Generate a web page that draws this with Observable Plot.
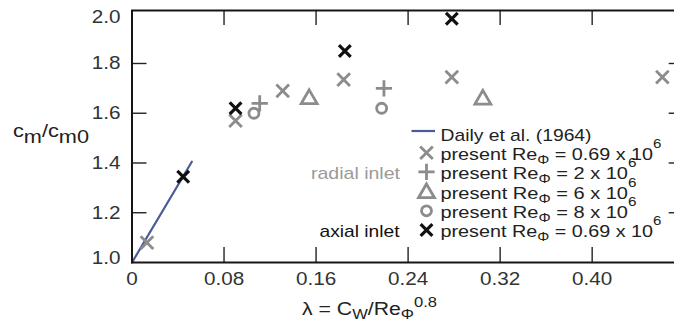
<!DOCTYPE html>
<html><head><meta charset="utf-8">
<script src="https://cdn.jsdelivr.net/npm/d3@7"></script>
<script src="https://cdn.jsdelivr.net/npm/@observablehq/plot@0.6"></script>
<style>
html,body{margin:0;padding:0;background:#fff;overflow:hidden;}
svg{overflow:hidden;}
</style></head><body><div id="chart"></div>
<script>
// ---- data ----
const xTicks = [0, 0.08, 0.16, 0.24, 0.32, 0.40];
const yTicks = [1.0, 1.2, 1.4, 1.6, 1.8, 2.0];

const dailyX = [0, 0.052];
const dailyY = [1.0, 1.405];

const radial069X = [0.013, 0.090, 0.131, 0.184, 0.278, 0.461];
const radial069Y = [1.08, 1.57, 1.69, 1.735, 1.745, 1.745];

const re2X = [0.111, 0.219];
const re2Y = [1.64, 1.70];

const re6X = [0.154, 0.305];
const re6Y = [1.657, 1.655];

const re8X = [0.106, 0.217];
const re8Y = [1.60, 1.62];

const axial069X = [0.0445, 0.090, 0.185, 0.278];
const axial069Y = [1.345, 1.62, 1.85, 1.98];

const legendLabels = [
  "Daily et al. (1964)",
  ["0.69", "6"], ["2", "6"], ["6", "6"], ["8", "6"], ["0.69", "6"]
];

// ---- layout ----
const W = 674, H = 324, mL = 131.5, mR = -9.7, mT = 10, mB = 62;
const innerW = W - mL - mR, innerH = H - mT - mB;
const TL = 15;
const pts = (xs, ys) => xs.map((x, i) => ({x, y: ys[i]}));
const gray = "#8c8c8c", black = "#111", blue = "#4a5b98";
const font = "'Liberation Sans', Arial, Helvetica, sans-serif";

const xFmt = d => d === 0 ? "0" : d.toFixed(2);
const yFmt = d => d.toFixed(1);

const S = {
  timesGray: {symbol: "times", r: 5.8, stroke: gray, sw: 2.8},
  plus: {symbol: "plus", r: 5.3, stroke: gray, sw: 2.8},
  tri: {symbol: "triangle", r: 5.9, stroke: gray, sw: 2.8},
  circ: {symbol: "circle", r: 5.0, stroke: gray, sw: 2.8},
  timesBlack: {symbol: "times", r: 5.4, stroke: black, sw: 3.2}
};
const dotOpts = s => ({x: "x", y: "y", symbol: s.symbol, r: s.r, stroke: s.stroke, strokeWidth: s.sw, fill: "none"});

const plot = Plot.plot({
  width: W, height: H,
  marginLeft: mL, marginRight: mR, marginTop: mT, marginBottom: mB,
  style: {fontFamily: font, fontSize: "18px", color: "#333", background: "#fff"},
  x: {domain: [0, 0.48], label: null},
  y: {domain: [1, 2.013], label: null},
  marks: [
    Plot.axisX(xTicks, {tickSize: 0, tickPadding: 10, tickFormat: xFmt, fontSize: 18, fill: "#333", label: null}),
    Plot.axisY(yTicks.slice(1, -1), {tickSize: 0, tickPadding: 11.5, tickFormat: yFmt, fontSize: 18, fill: "#333", label: null}),
    Plot.axisY(yTicks.slice(-1), {tickSize: 0, tickPadding: 11.5, tickFormat: yFmt, fontSize: 18, fill: "#333", label: null, dy: 3}),
    Plot.axisY(yTicks.slice(0, 1), {tickSize: 0, tickPadding: 11.5, tickFormat: yFmt, fontSize: 18, fill: "#333", label: null, dy: -4}),
    // inward ticks
    Plot.ruleX(xTicks.slice(1), {x: d => d, insetTop: innerH - TL, stroke: "#222", strokeWidth: 1.4}),
    Plot.ruleX(xTicks.slice(1), {x: d => d, insetBottom: innerH - TL, stroke: "#222", strokeWidth: 1.4}),
    Plot.ruleY(yTicks.slice(1, -1), {y: d => d, insetRight: innerW - TL, stroke: "#222", strokeWidth: 1.4}),
    Plot.ruleY(yTicks.slice(1, -1), {y: d => d, insetLeft: innerW - TL, stroke: "#222", strokeWidth: 1.4}),
    // Daily line
    Plot.line(pts(dailyX, dailyY), {x: "x", y: "y", stroke: blue, strokeWidth: 2.2}),
    // radial inlet
    Plot.dot(pts(radial069X, radial069Y), dotOpts(S.timesGray)),
    Plot.dot(pts(re2X, re2Y), dotOpts(S.plus)),
    Plot.dot(pts(re6X, re6Y), dotOpts(S.tri)),
    Plot.dot(pts(re8X, re8Y), dotOpts(S.circ)),
    // axial inlet
    Plot.dot(pts(axial069X, axial069Y), dotOpts(S.timesBlack)),
    Plot.frame({stroke: "#1c1414", strokeWidth: 2})
  ]
});
document.getElementById("chart").appendChild(plot);

const svg = d3.select(plot);
// widen tick labels slightly like the reference
svg.selectAll('g[aria-label="x-axis tick label"] text, g[aria-label="y-axis tick label"] text')
  .each(function() {
    const t = this.getAttribute("transform") || "";
    this.setAttribute("transform", t + " scale(1.15,1)");
  });

function addText(x, y, parts, {size = 18, fill = "#222", length = null} = {}) {
  const t = svg.append("text").attr("x", x).attr("y", y)
    .attr("text-anchor", "start")
    .attr("font-family", font).attr("font-size", size).attr("fill", fill);
  parts.forEach(p => t.append("tspan").attr("dy", p.dy || 0).attr("font-size", p.size || size).text(p.t));
  if (length) t.attr("textLength", length).attr("lengthAdjust", "spacingAndGlyphs");
  return t;
}

// axis titles
addText(13, 137, [{t: "c"}, {t: "m", dy: 6}, {t: "/c", dy: -6}, {t: "m0", dy: 6}], {size: 18, fill: "#222", length: 76});
addText(302, 315, [{t: "λ = C"}, {t: "W", dy: 4, size: 14}, {t: "/Re", dy: -4}, {t: "Φ", dy: 4, size: 14}, {t: "0.8", dy: -12, size: 14}], {size: 18, fill: "#222", length: 135});

// inlet annotations
addText(311, 179, [{t: "radial inlet"}], {size: 17, fill: "#9a9a9a", length: 89});
addText(319.5, 237, [{t: "axial inlet"}], {size: 17, fill: "#111", length: 80});

// legend
const lx = 440.5, base = [141, 160.2, 179.4, 198.6, 217.8, 237];
const symX = 426.5;
svg.append("line").attr("x1", 411.5).attr("x2", 435).attr("y1", 131).attr("y2", 131)
  .attr("stroke", blue).attr("stroke-width", 2.2);
addText(lx, base[0], [{t: legendLabels[0]}], {size: 17, length: 151});
const lens = [221, 196, 196, 196, 221];
for (let i = 1; i < 6; i++) {
  const [m, e] = legendLabels[i];
  addText(lx, base[i], [{t: "present Re"}, {t: "Φ", dy: 4, size: 13}, {t: " = " + m + " x 10", dy: -4}, {t: e, dy: -12, size: 13}], {size: 17, length: lens[i - 1]});
}
const symMap = {times: d3.symbolTimes, plus: d3.symbolPlus, triangle: d3.symbolTriangle, circle: d3.symbolCircle};
const legSyms = [
  {...S.timesGray, dy: -7.5},
  {...S.plus, dy: -7.5},
  {...S.tri, dy: -5.5},
  {...S.circ, dy: -7},
  {...S.timesBlack, dy: -7}
];
legSyms.forEach((s, i) => {
  svg.append("path")
    .attr("d", d3.symbol(symMap[s.symbol], s.r * s.r * Math.PI)())
    .attr("transform", `translate(${symX},${base[i + 1] + s.dy})`)
    .attr("fill", "none").attr("stroke", s.stroke).attr("stroke-width", s.sw);
});
</script>
</body></html>
